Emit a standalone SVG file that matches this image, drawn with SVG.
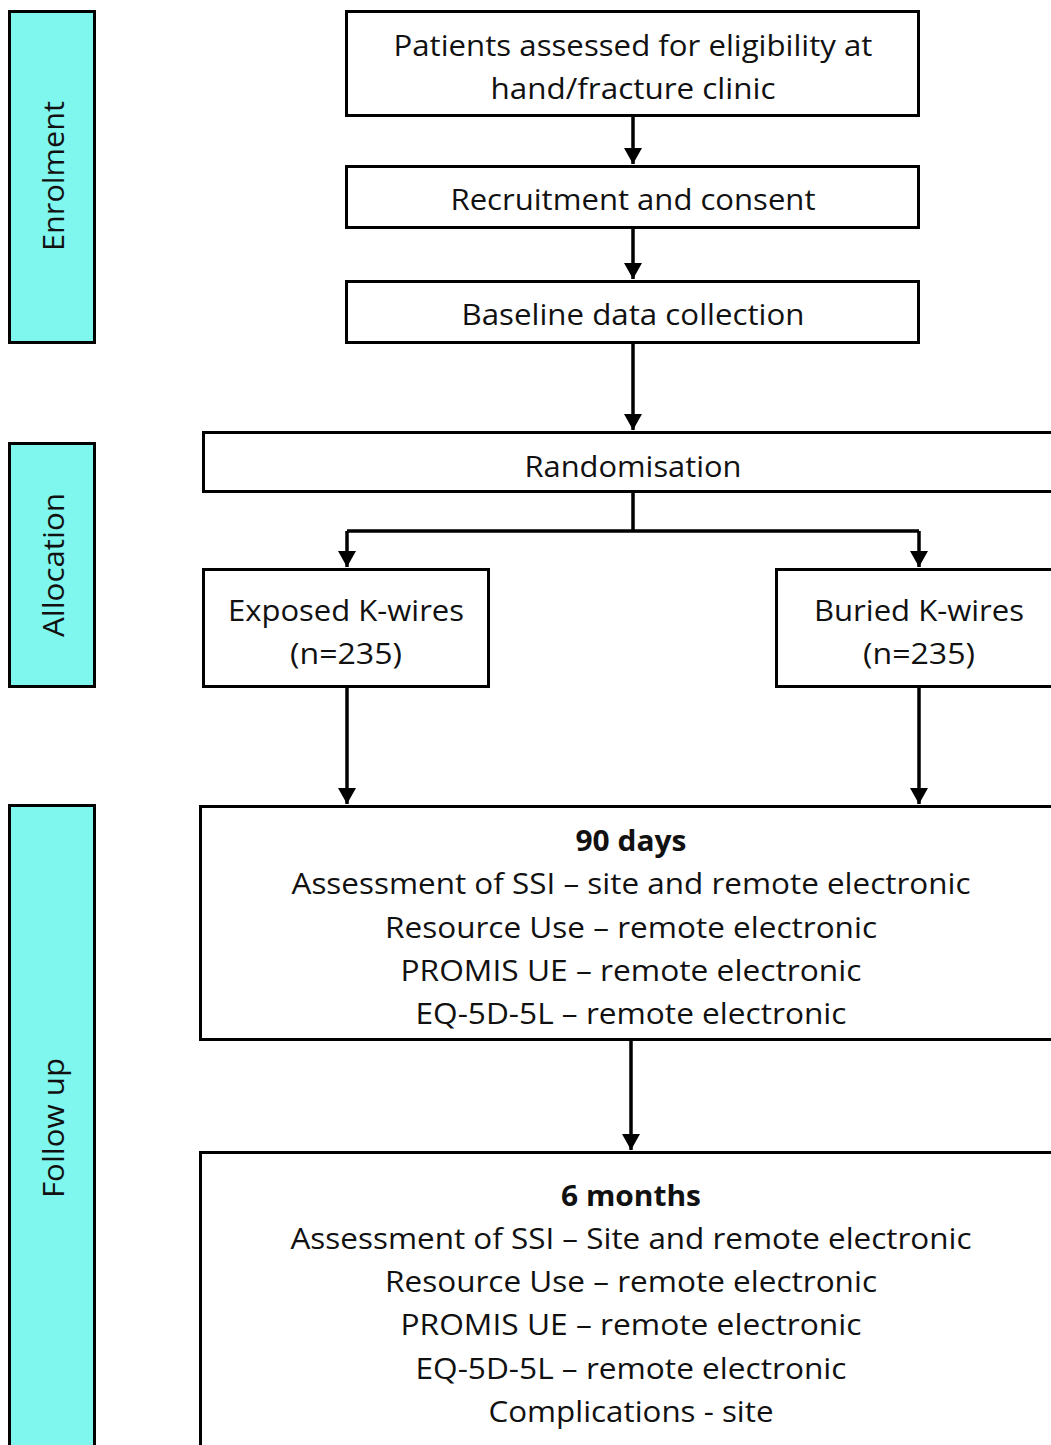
<svg xmlns="http://www.w3.org/2000/svg" width="1051" height="1445" viewBox="0 0 1051 1445">
<style>
.box{fill:#fff;stroke:#000;stroke-width:3}
.side{fill:#7ff6ee;stroke:#000;stroke-width:3}
.t{font-family:"Open Sans","Noto Sans","Liberation Sans",sans-serif;font-size:29px;fill:#111;text-anchor:middle;dominant-baseline:central}
.b{font-weight:bold}
.c{fill:none;stroke:#000;stroke-width:3.5}
</style>
<defs>
<marker id="ah" markerUnits="userSpaceOnUse" markerWidth="18" markerHeight="17" refX="9" refY="16" orient="0" viewBox="0 0 18 17">
<path d="M0,0 L18,0 L9,16 Z" fill="#000"/>
</marker>
</defs>
<rect width="1051" height="1445" fill="#fff"/>
<g id="phase-enrolment">
<rect class="side" x="9.5" y="11.5" width="85" height="331"/>
<text class="t" transform="translate(52,176) rotate(-90)" textLength="150" lengthAdjust="spacingAndGlyphs">Enrolment</text>
</g>
<g id="phase-allocation">
<rect class="side" x="9.5" y="443.5" width="85" height="243"/>
<text class="t" transform="translate(52,565) rotate(-90)" textLength="144" lengthAdjust="spacingAndGlyphs">Allocation</text>
</g>
<g id="phase-followup">
<rect class="side" x="9.5" y="805.5" width="85" height="660"/>
<text class="t" transform="translate(52,1128) rotate(-90)" textLength="140" lengthAdjust="spacingAndGlyphs">Follow up</text>
</g>
<g id="connectors">
<path class="c" d="M633,116 V164" marker-end="url(#ah)"/>
<path class="c" d="M633,228 V279" marker-end="url(#ah)"/>
<path class="c" d="M633,343 V430" marker-end="url(#ah)"/>
<path class="c" d="M633,492 V531 M347,531 H919"/>
<path class="c" d="M347,531 V567" marker-end="url(#ah)"/>
<path class="c" d="M919,531 V567" marker-end="url(#ah)"/>
<path class="c" d="M347,687 V804" marker-end="url(#ah)"/>
<path class="c" d="M919,687 V804" marker-end="url(#ah)"/>
<path class="c" d="M631,1040 V1150" marker-end="url(#ah)"/>
</g>
<g id="node-eligibility">
<rect class="box" x="346.5" y="11.5" width="572" height="104"/>
<text class="t" x="633" y="44" textLength="479" lengthAdjust="spacingAndGlyphs">Patients assessed for eligibility at</text>
<text class="t" x="633" y="87" textLength="285" lengthAdjust="spacingAndGlyphs">hand/fracture clinic</text>
</g>
<g id="node-recruitment">
<rect class="box" x="346.5" y="166.5" width="572" height="61"/>
<text class="t" x="633" y="198" textLength="365" lengthAdjust="spacingAndGlyphs">Recruitment and consent</text>
</g>
<g id="node-baseline">
<rect class="box" x="346.5" y="281.5" width="572" height="61"/>
<text class="t" x="633" y="313" textLength="343" lengthAdjust="spacingAndGlyphs">Baseline data collection</text>
</g>
<g id="node-randomisation">
<rect class="box" x="203.5" y="432.5" width="870" height="59"/>
<text class="t" x="633" y="465" textLength="217" lengthAdjust="spacingAndGlyphs">Randomisation</text>
</g>
<g id="node-exposed">
<rect class="box" x="203.5" y="569.5" width="285" height="117"/>
<text class="t" x="346" y="609" textLength="236" lengthAdjust="spacingAndGlyphs">Exposed K-wires</text>
<text class="t" x="346" y="652" textLength="112" lengthAdjust="spacingAndGlyphs">(n=235)</text>
</g>
<g id="node-buried">
<rect class="box" x="776.5" y="569.5" width="300" height="117"/>
<text class="t" x="919" y="609" textLength="210" lengthAdjust="spacingAndGlyphs">Buried K-wires</text>
<text class="t" x="919" y="652" textLength="112" lengthAdjust="spacingAndGlyphs">(n=235)</text>
</g>
<g id="node-90days">
<rect class="box" x="200.5" y="806.5" width="880" height="233"/>
<text class="t b" x="631" y="839" textLength="111" lengthAdjust="spacingAndGlyphs">90 days</text>
<text class="t" x="631" y="882" textLength="679" lengthAdjust="spacingAndGlyphs">Assessment of SSI – site and remote electronic</text>
<text class="t" x="631" y="926" textLength="492" lengthAdjust="spacingAndGlyphs">Resource Use – remote electronic</text>
<text class="t" x="631" y="969" textLength="461" lengthAdjust="spacingAndGlyphs">PROMIS UE – remote electronic</text>
<text class="t" x="631" y="1012" textLength="431" lengthAdjust="spacingAndGlyphs">EQ-5D-5L – remote electronic</text>
</g>
<g id="node-6months">
<rect class="box" x="200.5" y="1152.5" width="880" height="320"/>
<text class="t b" x="631" y="1194" textLength="140" lengthAdjust="spacingAndGlyphs">6 months</text>
<text class="t" x="631" y="1237" textLength="681" lengthAdjust="spacingAndGlyphs">Assessment of SSI – Site and remote electronic</text>
<text class="t" x="631" y="1280" textLength="492" lengthAdjust="spacingAndGlyphs">Resource Use – remote electronic</text>
<text class="t" x="631" y="1323" textLength="461" lengthAdjust="spacingAndGlyphs">PROMIS UE – remote electronic</text>
<text class="t" x="631" y="1367" textLength="431" lengthAdjust="spacingAndGlyphs">EQ-5D-5L – remote electronic</text>
<text class="t" x="631" y="1410" textLength="285" lengthAdjust="spacingAndGlyphs">Complications - site</text>
</g>
</svg>
